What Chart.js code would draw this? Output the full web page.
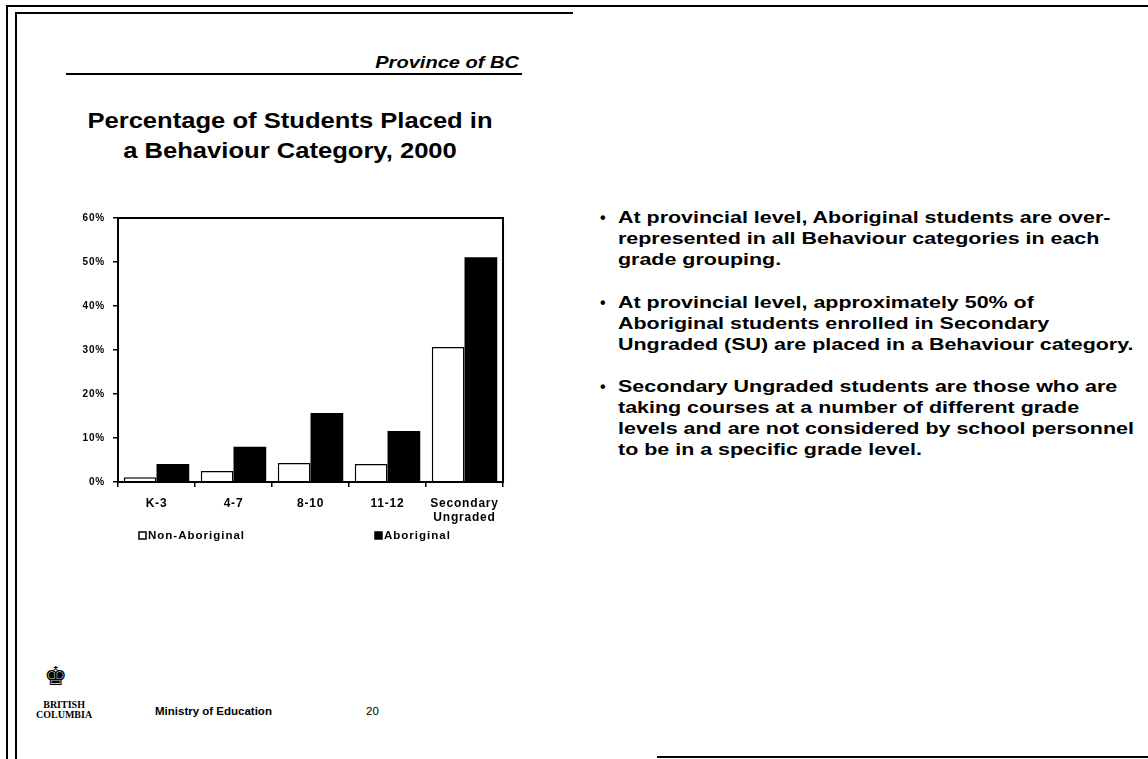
<!DOCTYPE html>
<html>
<head>
<meta charset="utf-8">
<script src="https://cdn.jsdelivr.net/npm/chart.js@4/dist/chart.umd.min.js"></script>
<style>
  html,body{margin:0;padding:0;background:#fff;}
  body{width:1148px;height:759px;position:relative;overflow:hidden;font-family:"Liberation Sans",Arial,sans-serif;color:#000;}
  .ln{position:absolute;background:#000;}
  .t{position:absolute;white-space:nowrap;}
  #wrap{position:absolute;left:60px;top:200px;width:448px;height:352px;}
  .bul{position:absolute;left:600px;font-weight:bold;font-size:16px;line-height:21px;}
  .bul .dot{position:absolute;left:0;top:0;}
  .bul .tx{position:absolute;left:18px;top:0;white-space:nowrap;transform:scaleX(1.34);transform-origin:0 0;}
</style>
</head>
<body>
<!-- frame lines -->
<div class="ln" style="left:7px;top:5px;width:1141px;height:2px;"></div>
<div class="ln" style="left:6px;top:5px;width:2px;height:754px;"></div>
<div class="ln" style="left:15px;top:12px;width:558px;height:2px;"></div>
<div class="ln" style="left:15px;top:12px;width:2px;height:747px;"></div>
<div class="ln" style="left:657px;top:756px;width:491px;height:2px;"></div>

<div class="t" style="left:0;width:519px;text-align:right;top:53px;font-weight:bold;font-style:italic;font-size:17px;transform:scaleX(1.18);transform-origin:519px 0;">Province of BC</div>
<div class="ln" style="left:66px;top:73px;width:456px;height:1.5px;"></div>

<div class="t" style="left:40px;width:500px;text-align:center;top:106px;font-weight:bold;font-size:21.5px;line-height:30px;transform:scaleX(1.19);transform-origin:250px 0;">Percentage of Students Placed in<br>a Behaviour Category, 2000</div>

<div id="wrap"><canvas id="c"></canvas></div>

<div class="bul" style="top:207px;"><span class="dot">•</span><span class="tx">At provincial level, Aboriginal students are over-<br>represented in all Behaviour categories in each<br>grade grouping.</span></div>
<div class="bul" style="top:292px;"><span class="dot">•</span><span class="tx">At provincial level, approximately 50% of<br>Aboriginal students enrolled in Secondary<br>Ungraded (SU) are placed in a Behaviour category.</span></div>
<div class="bul" style="top:376px;"><span class="dot">•</span><span class="tx">Secondary Ungraded students are those who are<br>taking courses at a number of different grade<br>levels and are not considered by school personnel<br>to be in a specific grade level.</span></div>

<div class="t" style="left:36px;top:700px;font-size:10px;line-height:10px;font-family:'Liberation Serif',serif;font-weight:bold;text-align:center;">BRITISH<br>COLUMBIA</div>
<div class="t" style="left:44px;top:663px;font-size:26px;line-height:26px;">♚</div>
<div class="t" style="left:155px;top:705px;font-size:11.5px;font-weight:bold;">Ministry of Education</div>
<div class="t" style="left:366px;top:705px;font-size:11.5px;">20</div>

<script>
const categories = ["K-3", "4-7", "8-10", "11-12", ["Secondary", "Ungraded"]];
const nonAboriginal = [1.1, 2.5, 4.3, 4.1, 30.7];
const aboriginal = [4.1, 8.0, 15.7, 11.6, 51.1];
const seriesNames = ["Non-Aboriginal", "Aboriginal"];
const yTicks = [0, 10, 20, 30, 40, 50, 60];

const spacing = {
  id: 'spacing',
  beforeUpdate(chart) { chart.ctx.letterSpacing = '0.8px'; },
  beforeDraw(chart) { chart.ctx.letterSpacing = '0.8px'; }
};

const frame = {
  id: 'frame',
  afterDatasetsDraw(chart) {
    const a = chart.chartArea, ctx = chart.ctx;
    ctx.save();
    ctx.strokeStyle = '#000';
    ctx.lineWidth = 2;
    ctx.strokeRect(a.left, a.top, a.right - a.left, a.bottom - a.top);
    ctx.restore();
  }
};

const legendPlug = {
  id: 'legendPlug',
  afterDraw(chart) {
    const a = chart.chartArea, ctx = chart.ctx;
    const y = a.bottom + 54;
    const xs = [a.left + 21, a.left + 257];
    ctx.save();
    ctx.letterSpacing = '1px';
    ctx.font = 'bold 11.5px "Liberation Sans", Arial, sans-serif';
    ctx.textBaseline = 'middle';
    chart.data.datasets.forEach((ds, i) => {
      const x = xs[i];
      ctx.fillStyle = ds.backgroundColor;
      ctx.fillRect(x, y - 4, 7, 7);
      ctx.strokeStyle = '#000';
      ctx.lineWidth = 1.5;
      ctx.strokeRect(x, y - 4, 7, 7);
      ctx.fillStyle = '#000';
      ctx.fillText(ds.label, x + 9, y);
    });
    ctx.restore();
  }
};

new Chart(document.getElementById('c'), {
  type: 'bar',
  data: {
    labels: categories,
    datasets: [
      { label: seriesNames[0], data: nonAboriginal, backgroundColor: '#ffffff', borderColor: '#000', borderWidth: 1.5 },
      { label: seriesNames[1], data: aboriginal, backgroundColor: '#000000', borderColor: '#000', borderWidth: 0 }
    ]
  },
  options: {
    responsive: true,
    maintainAspectRatio: false,
    animation: false,
    layout: { padding: { top: 18, right: 2, left: 0, bottom: 0 } },
    plugins: { legend: { display: false }, tooltip: { enabled: false } },
    datasets: { bar: { categoryPercentage: 0.85, barPercentage: 1.0 } },
    scales: {
      x: {
        offset: true,
        grid: { display: true, offset: true, drawOnChartArea: false, drawTicks: true, tickLength: 5, color: '#000', lineWidth: 1.5 },
        border: { display: true, color: '#000', width: 2 },
        ticks: { color: '#000', font: { family: '"Liberation Sans", Arial, sans-serif', size: 12, weight: 'bold', lineHeight: 1.2 }, padding: 9, maxRotation: 0, autoSkip: false },
        afterFit(s) { s.height = 70; }
      },
      y: {
        min: yTicks[0],
        max: yTicks[yTicks.length - 1],
        afterBuildTicks(s) { s.ticks = yTicks.map(v => ({ value: v })); },
        grid: { display: true, drawOnChartArea: false, drawTicks: true, tickLength: 5, color: '#000', lineWidth: 1.5 },
        border: { display: true, color: '#000', width: 2 },
        ticks: { color: '#000', font: { family: '"Liberation Sans", Arial, sans-serif', size: 10, weight: 'bold' }, padding: 8, callback: v => v + '%' },
        afterFit(s) { s.width = 58; }
      }
    }
  },
  plugins: [spacing, frame, legendPlug]
});
</script>
</body>
</html>
